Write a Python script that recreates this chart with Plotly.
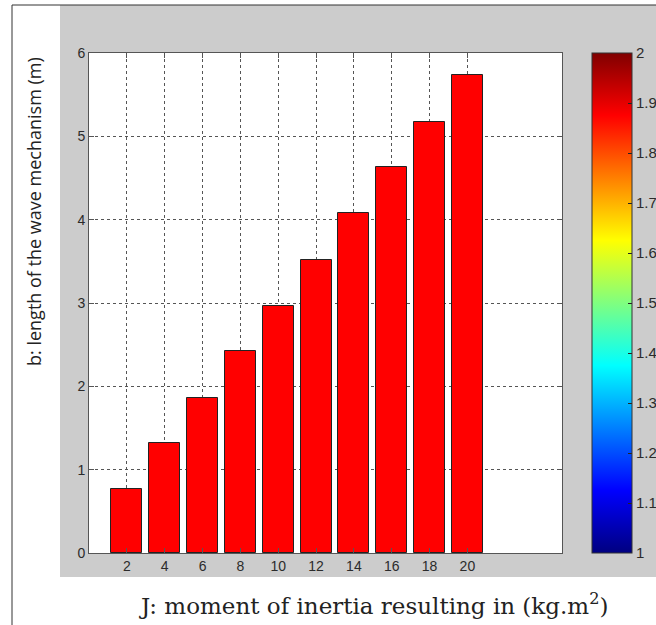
import plotly.graph_objects as go

# Moment of inertia J (kg.m^2) and resulting length b of the wave mechanism (m)
inertia_j = [2, 4, 6, 8, 10, 12, 14, 16, 18, 20]
length_b = [0.77, 1.32, 1.86, 2.42, 2.96, 3.52, 4.08, 4.63, 5.17, 5.74]

y_ticks = [0, 1, 2, 3, 4, 5, 6]
cbar_ticks = [1, 1.1, 1.2, 1.3, 1.4, 1.5, 1.6, 1.7, 1.8, 1.9, 2]
cbar_labels = ["1", "1.1", "1.2", "1.3", "1.4", "1.5", "1.6", "1.7", "1.8", "1.9", "2"]

W, H = 656, 625
# plot area in pixels
PX0, PX1 = 89, 562
PY0, PY1 = 53, 553
# colorbar in pixels
CX0, CX1 = 592, 632

def fx(px):
    return px / W

def fy(py):
    return 1 - py / H

jet = [
    [0.0, "rgb(0,0,128)"],
    [0.125, "rgb(0,0,255)"],
    [0.375, "rgb(0,255,255)"],
    [0.625, "rgb(255,255,0)"],
    [0.875, "rgb(255,0,0)"],
    [1.0, "rgb(128,0,0)"],
]

tick_font = dict(family="Liberation Sans, Arial, sans-serif", size=14, color="#2b2b2b")
axis_col = "#555555"

fig = go.Figure()

fig.add_trace(go.Bar(
    x=inertia_j,
    y=length_b,
    width=1.64,
    marker=dict(color="#ff0000", line=dict(color="#222222", width=1)),
    showlegend=False,
))

# colour scale shown beside the axes
fig.add_trace(go.Scatter(
    x=[None, None],
    y=[None, None],
    mode="markers",
    showlegend=False,
    marker=dict(
        color=[1, 2],
        cmin=1,
        cmax=2,
        colorscale=jet,
        showscale=True,
        colorbar=dict(
            x=fx(CX0),
            xanchor="left",
            y=fy((PY0 + PY1) / 2),
            yanchor="middle",
            len=PY1 - PY0,
            lenmode="pixels",
            thickness=CX1 - CX0,
            thicknessmode="pixels",
            xpad=0,
            ypad=0,
            outlinewidth=1,
            outlinecolor="#333333",
            tickvals=cbar_ticks,
            ticktext=cbar_labels,
            ticks="inside",
            ticklen=4,
            tickcolor="#222222",
            tickfont=dict(family="Liberation Sans, Arial, sans-serif", size=15, color="#2b2b2b"),
            bgcolor="rgba(0,0,0,0)",
        ),
    ),
))

shapes = [
    # grey figure background
    dict(type="rect", xref="paper", yref="paper", x0=fx(60), x1=1.0, y0=fy(577), y1=fy(5),
         fillcolor="#cccccc", line=dict(width=0), layer="below"),
    # white axes background
    dict(type="rect", xref="paper", yref="paper", x0=fx(PX0), x1=fx(PX1), y0=fy(PY1), y1=fy(PY0),
         fillcolor="white", line=dict(width=0), layer="below"),
    # thin frame lines on the left and top
    dict(type="line", xref="paper", yref="paper", x0=fx(12), x1=fx(12), y0=0, y1=fy(5),
         line=dict(color="#333333", width=1), layer="below"),
    dict(type="line", xref="paper", yref="paper", x0=fx(12), x1=1.0, y0=fy(5), y1=fy(5),
         line=dict(color="#333333", width=1), layer="below"),
]
# tick marks on the left edge of the colour bar
for v in cbar_ticks[1:-1]:
    py = PY1 - (v - cbar_ticks[0]) / (cbar_ticks[-1] - cbar_ticks[0]) * (PY1 - PY0)
    shapes.append(dict(type="line", xref="paper", yref="paper", x0=fx(CX0), x1=fx(CX0 + 4),
                       y0=fy(py), y1=fy(py), line=dict(color="#222222", width=1)))

axis_common = dict(
    ticks="inside",
    ticklen=5,
    tickcolor=axis_col,
    tickfont=tick_font,
    showline=True,
    linecolor=axis_col,
    linewidth=1,
    mirror="ticks",
    showgrid=True,
    gridcolor="#555555",
    griddash="dot",
    gridwidth=1,
    zeroline=False,
    fixedrange=True,
)

fig.update_layout(
    width=W,
    height=H,
    margin=dict(l=0, r=0, t=0, b=0, autoexpand=False),
    paper_bgcolor="white",
    plot_bgcolor="white",
    bargap=0,
    shapes=shapes,
    xaxis=dict(
        domain=[fx(PX0), fx(PX1)],
        range=[0, 25],
        tickvals=inertia_j,
        ticktext=[str(v) for v in inertia_j],
        **axis_common,
    ),
    yaxis=dict(
        domain=[fy(PY1), fy(PY0)],
        range=[0, 6],
        tickvals=y_ticks,
        **axis_common,
    ),
    annotations=[
        dict(
            text="b: length of the wave mechanism (m)",
            xref="paper", yref="paper",
            x=fx(34), y=fy(212),
            xanchor="center", yanchor="middle",
            textangle=-90,
            showarrow=False,
            font=dict(family="Open Sans, sans-serif", size=18, color="#222222"),
        ),
        dict(
            text="J: moment of inertia resulting in (kg.m<sup>2</sup>)",
            xref="paper", yref="paper",
            x=fx(373), y=fy(604),
            xanchor="center", yanchor="middle",
            showarrow=False,
            font=dict(family="DejaVu Serif, serif", size=23, color="#222222"),
        ),
    ],
)

fig.write_html("out.html")
